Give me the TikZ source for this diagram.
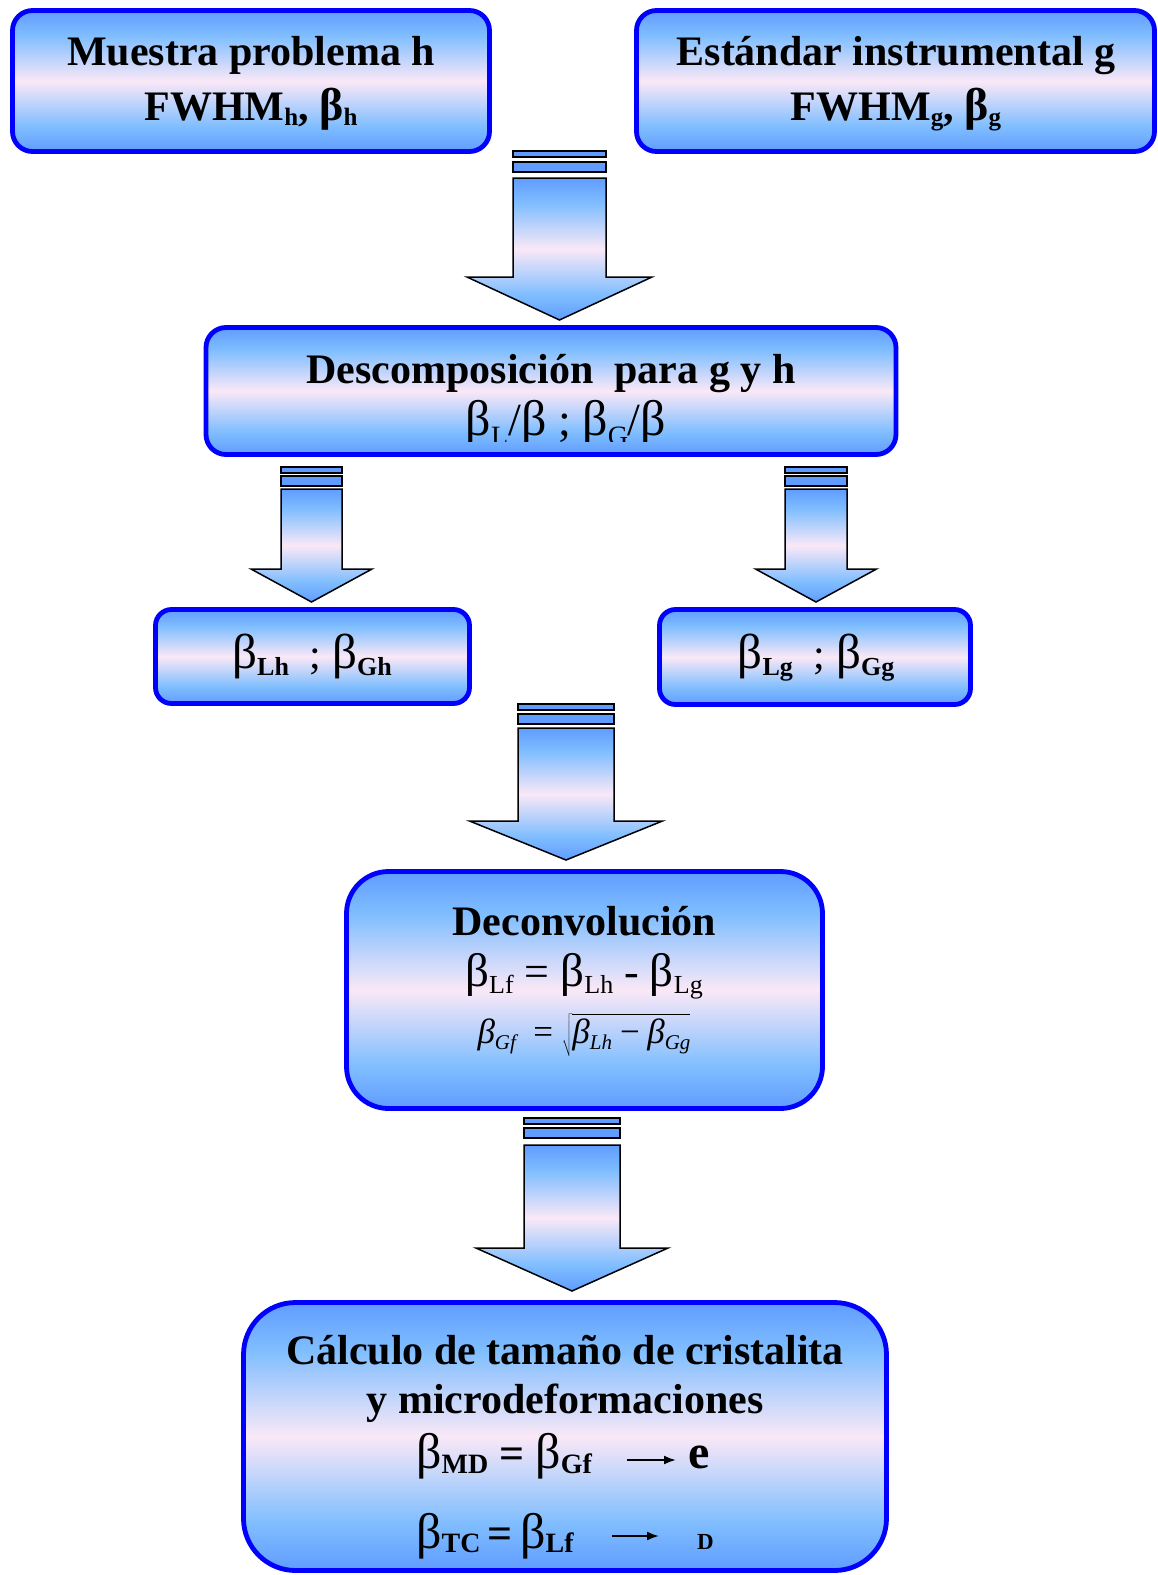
\documentclass[tikz,border=0pt]{standalone}
\usepackage{fontspec}
\setmainfont{Liberation Serif}
\usetikzlibrary{arrows.meta}
\definecolor{gblue}{RGB}{96,156,255}
\definecolor{lblue}{RGB}{128,190,255}
\definecolor{gpink}{RGB}{250,232,247}
\definecolor{bord}{RGB}{0,0,255}
\pgfdeclareverticalshading{bpb}{100bp}{color(0bp)=(gblue); color(25bp)=(gblue); color(34bp)=(lblue); color(50bp)=(gpink); color(66bp)=(lblue); color(75bp)=(gblue); color(100bp)=(gblue)}
\newcommand\fs[1]{\fontsize{#1}{#1}\selectfont}
\newcommand\lsub[3]{\raisebox{-#1pt}{\fs{#2}#3}}
\newcommand\bet[1]{{\fs{#1}β}}
\newcommand\blockarr[8]{%
  \filldraw[barst] ({#1-#2},#4) rectangle ({#1+#2},{#4+6});
  \filldraw[barst] ({#1-#2},#5) rectangle ({#1+#2},{#5+10});
  \path[arrst] ({#1-#2},#6) -- ({#1+#2},#6) -- ({#1+#2},#7) -- ({#1+#3},#7) -- (#1,#8) -- ({#1-#3},#7) -- ({#1-#2},#7) -- cycle;}
\begin{document}
\begin{tikzpicture}[x=1pt,y=-1pt,
  box/.style={draw=bord, line width=4.8pt, shading=bpb, inner sep=0pt, rectangle},
  txt/.style={inner sep=0pt, anchor=base, text=black},
  txtw/.style={inner sep=0pt, anchor=base west, text=black},
  barst/.style={draw=black, line width=1.5pt, fill=gblue},
  arrst/.style={draw=black, line width=1.5pt, line join=miter, shading=bpb},
  smallarr/.style={line width=2pt, -{Latex[length=12pt,width=9pt]}}
]
\useasboundingbox (0,0) rectangle (1158,1575);
\fill[white] (0,0) rectangle (1158,1575);

% boxes
\node[box, rounded corners=20pt, minimum width=477pt, minimum height=141pt] (b1) at (251,81) {};
\node[box, rounded corners=20pt, minimum width=518pt, minimum height=141pt] (b2) at (895.5,81) {};
\node[box, rounded corners=20pt, minimum width=690pt, minimum height=127pt] (b3) at (551,391) {};
\node[box, rounded corners=16pt, minimum width=314pt, minimum height=94pt] (b4) at (312.5,656.5) {};
\node[box, rounded corners=16pt, minimum width=311pt, minimum height=95pt] (b5) at (815,657) {};
\node[box, rounded corners=42pt, minimum width=476pt, minimum height=237pt] (b6) at (584.5,990) {};
\node[box, rounded corners=52pt, minimum width=643pt, minimum height=268pt] (b7) at (565,1436.5) {};

% block arrows
\blockarr{559.5}{46.5}{92.5}{151}{162}{178}{277}{320}
\blockarr{311.5}{30.5}{60.5}{467}{476}{489}{569}{602}
\blockarr{816}{31}{60.5}{467}{476}{489}{569}{602}
\blockarr{566}{48}{96.5}{704}{714}{728}{821}{860}
\blockarr{572}{48}{96}{1118}{1128}{1145}{1248}{1291}

% box 1
\node[txt, font=\fs{42}\bfseries] (t1a) at (251,65) {Muestra problema h};
\node[txt, font=\fs{42}\bfseries] (t1b) at (251,120) {FWHM\lsub{5}{25}{h}, \bet{46}\lsub{5}{25}{h}};
% box 2
\node[txt, font=\fs{42}\bfseries] (t2a) at (896,65) {Estándar instrumental g};
\node[txt, font=\fs{42}\bfseries] (t2b) at (896,120) {FWHM\lsub{5}{25}{g}, \bet{46}\lsub{5}{25}{g}};
% box 3
\node[txt, font=\fs{42}\bfseries] (t3a) at (551,383) {Descomposición\ \ para g y h};
\begin{scope}
\clip (204,395) rectangle (899,441);
\node[txt, font=\fs{46}] (t3b) at (566,435) {\bet{50}\lsub{10}{28}{L}/\bet{50} ; \bet{50}\lsub{10}{28}{G}/\bet{50}};
\end{scope}
% box 4, 5
\node[txt, font=\fs{42}] (t4) at (312,668) {\bet{49}\lsub{7}{26}{\bfseries Lh}\ \ ; \bet{49}\lsub{7}{26}{\bfseries Gh}};
\node[txt, font=\fs{42}] (t5) at (816,668) {\bet{49}\lsub{7}{26}{\bfseries Lg}\ \ ; \bet{49}\lsub{7}{26}{\bfseries Gg}};
% box 6
\node[txt, font=\fs{42}\bfseries] (t6a) at (584.5,935) {Deconvolución};
\node[txt, font=\fs{44}] (t6b) at (584,986) {\bet{47}\lsub{7}{26}{Lf} = \bet{47}\lsub{7}{26}{Lh} - \bet{47}\lsub{7}{26}{Lg}};
\node[txt, font=\fs{35}] (t6c) at (584,1043) {{\itshape β}\lsub{6}{21}{\itshape Gf}\ \ =\ $\sqrt{\mbox{\itshape β\lsub{6}{21}{Lh}\,−\,β\lsub{6}{21}{Gg}}}$};
% box 7
\node[txt, font=\fs{42}\bfseries] (t7a) at (565,1364) {Cálculo de tamaño de cristalita};
\node[txt, font=\fs{42}\bfseries] (t7b) at (565,1413) {y microdeformaciones};
\node[txtw, font=\fs{44}] (t7c) at (416,1468) {\bet{50}\lsub{5}{28}{\bfseries MD} {\bfseries =} \bet{50}\lsub{5}{28}{\bfseries Gf}};
\node[txtw, font=\fs{48}\bfseries] (t7d) at (688,1468) {e};
\node[txtw, font=\fs{44}] (t7e) at (416,1548) {\bet{50}\lsub{4}{28}{\bfseries TC}\,{\bfseries =}\,\bet{50}\lsub{4}{28}{\bfseries Lf}};
\node[txtw, font=\fs{23}\bfseries] (t7f) at (697,1549) {D};
\coordinate (m1s) at (627,1460);
\coordinate (m1e) at (676,1460);
\coordinate (m2s) at (612,1536);
\coordinate (m2e) at (659,1536);
\draw[smallarr] (m1s) -- (m1e);
\draw[smallarr] (m2s) -- (m2e);
\end{tikzpicture}
\end{document}
